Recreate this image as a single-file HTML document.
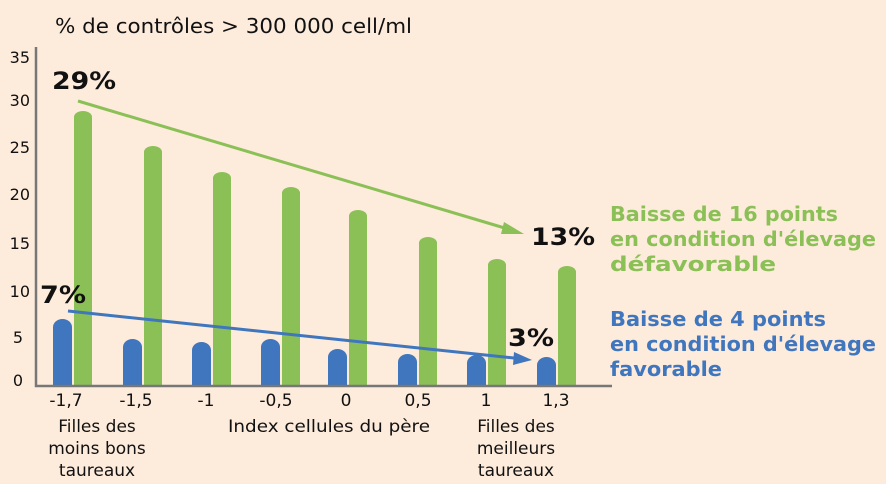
<!DOCTYPE html><html><head><style>body{margin:0}</style></head><body>
<svg width="886" height="484" xmlns="http://www.w3.org/2000/svg" style="display:block;background:#fdebdc;font-family:'DejaVu Sans',Verdana,sans-serif">
<rect width="886" height="484" fill="#fdebdc"/>
<text x="55" y="33" font-size="20" fill="#111" textLength="357" lengthAdjust="spacingAndGlyphs">% de contrôles &gt; 300 000 cell/ml</text>
<g font-size="16" fill="#111" text-anchor="end">
<text x="30" y="63">35</text><text x="30" y="106">30</text><text x="30" y="153">25</text><text x="30" y="200">20</text><text x="30" y="249">15</text><text x="30" y="297">10</text><text x="23" y="343">5</text><text x="23" y="386">0</text>
</g>
<g fill="#8bc057">
<path d="M74 385V117a9 6 0 0 1 18 0V385z"/>
<path d="M144 385V152a9 6 0 0 1 18 0V385z"/>
<path d="M213 385V178a9 6 0 0 1 18 0V385z"/>
<path d="M282 385V193a9 6 0 0 1 18 0V385z"/>
<path d="M349 385V216a9 6 0 0 1 18 0V385z"/>
<path d="M419 385V243a9 6 0 0 1 18 0V385z"/>
<path d="M488 385V265a9 6 0 0 1 18 0V385z"/>
<path d="M558 385V272a9 6 0 0 1 18 0V385z"/>
</g>
<g fill="#3f76bd">
<path d="M53 385V327a9.5 8 0 0 1 19 0V385z"/>
<path d="M123 385V347a9.5 8 0 0 1 19 0V385z"/>
<path d="M192 385V350a9.5 8 0 0 1 19 0V385z"/>
<path d="M261 385V347a9.5 8 0 0 1 19 0V385z"/>
<path d="M328 385V357a9.5 8 0 0 1 19 0V385z"/>
<path d="M398 385V362a9.5 8 0 0 1 19 0V385z"/>
<path d="M467 385V363a9.5 8 0 0 1 19 0V385z"/>
<path d="M537 385V365a9.5 8 0 0 1 19 0V385z"/>
</g>
<path d="M36 47V386H612" fill="none" stroke="#777" stroke-width="2.5"/>
<line x1="78" y1="101" x2="508" y2="229" stroke="#8bc057" stroke-width="3"/>
<polygon points="524,234 504,222 501,234" fill="#8bc057"/>
<line x1="68" y1="311" x2="514" y2="358" stroke="#3f76bd" stroke-width="3"/>
<polygon points="532,360 514,352 513,365" fill="#3f76bd"/>
<g font-size="24" font-weight="bold" fill="#111">
<text x="52" y="89" textLength="64" lengthAdjust="spacingAndGlyphs">29%</text><text x="531" y="245" textLength="64" lengthAdjust="spacingAndGlyphs">13%</text><text x="40" y="303" textLength="46" lengthAdjust="spacingAndGlyphs">7%</text><text x="508" y="346" textLength="46" lengthAdjust="spacingAndGlyphs">3%</text>
</g>
<g font-size="17" fill="#111" text-anchor="middle">
<text x="66" y="406">-1,7</text><text x="136" y="406">-1,5</text><text x="206" y="406">-1</text><text x="276" y="406">-0,5</text><text x="346" y="406">0</text><text x="418" y="406">0,5</text><text x="486" y="406">1</text><text x="556" y="406">1,3</text>
<text x="97" y="432">Filles des</text><text x="97" y="454">moins bons</text><text x="97" y="476">taureaux</text>
<text x="329" y="432" textLength="202" lengthAdjust="spacingAndGlyphs">Index cellules du père</text>
<text x="516" y="432">Filles des</text><text x="516" y="454">meilleurs</text><text x="516" y="476">taureaux</text>
</g>
<g font-size="20" font-weight="bold" fill="#8bc057"><text x="610" y="221" textLength="228" lengthAdjust="spacingAndGlyphs">Baisse de 16 points</text><text x="610" y="246" textLength="266" lengthAdjust="spacingAndGlyphs">en condition d'élevage</text><text x="610" y="271" textLength="166" lengthAdjust="spacingAndGlyphs">défavorable</text></g>
<g font-size="20" font-weight="bold" fill="#3f76bd"><text x="610" y="326" textLength="216" lengthAdjust="spacingAndGlyphs">Baisse de 4 points</text><text x="610" y="351" textLength="266" lengthAdjust="spacingAndGlyphs">en condition d'élevage</text><text x="610" y="376" textLength="112" lengthAdjust="spacingAndGlyphs">favorable</text></g>
</svg></body></html>
